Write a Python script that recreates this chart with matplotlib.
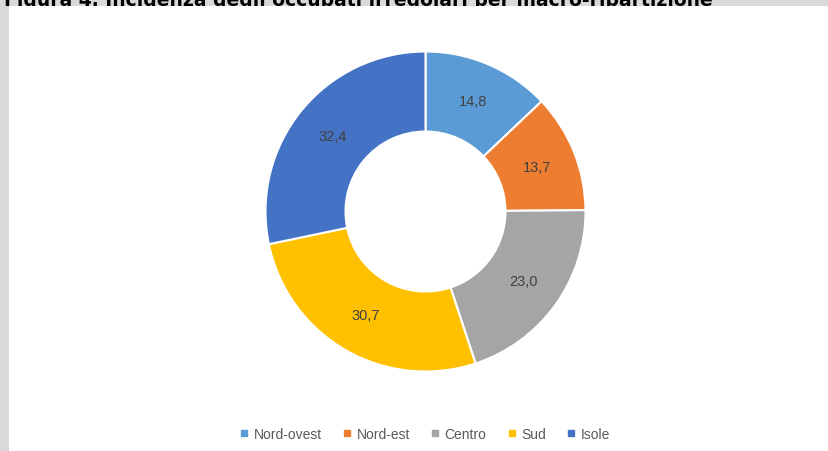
import numpy as np
import matplotlib.pyplot as plt
from matplotlib.lines import Line2D
from matplotlib.patches import Rectangle

regions = ["Nord-ovest", "Nord-est", "Centro", "Sud", "Isole"]
incidence = [14.8, 13.7, 23.0, 30.7, 32.4]
colors = ["#5B9BD5", "#ED7D31", "#A5A5A5", "#FFC000", "#4472C4"]
title = "Figura 4. Incidenza degli occupati irregolari per macro-ripartizione"

plt.rcParams["font.family"] = ["Liberation Sans", "DejaVu Sans"]

W, H = 829, 452
fig = plt.figure(figsize=(W / 100, H / 100), dpi=100, facecolor="#d9d9d9")

# white chart area inside the grey page, laid over the caption's lower part
fig.add_artist(Rectangle((9 / W, 0), 1 - 9 / W, 1 - 7 / H, transform=fig.transFigure,
                         facecolor="white", edgecolor="none", zorder=2))

# caption sits mostly above the page edge
fig.text(4 / W, 1 - 6 / H, title, fontsize=13.5, fontweight="bold",
         family="DejaVu Sans", color="black", va="baseline", ha="left", zorder=1)

ax = fig.add_axes([265.5 / W, 79.5 / H, 320 / W, 320 / H])
ax.set_zorder(3)
wedges, _ = ax.pie(incidence, colors=colors, startangle=90, counterclock=False, radius=1,
                   wedgeprops=dict(width=0.5, edgecolor="white", linewidth=1.5))

for w, v in zip(wedges, incidence):
    theta = np.deg2rad((w.theta1 + w.theta2) / 2)
    ax.text(0.75 * np.cos(theta), 0.75 * np.sin(theta), f"{v:.1f}".replace(".", ","),
            ha="center", va="center", fontsize=10.5, color="#404040")

ax.set_xlim(-1, 1)
ax.set_ylim(-1, 1)
ax.set_aspect("equal")
ax.axis("off")

handles = [Line2D([], [], marker="s", linestyle="none", markersize=4,
                  markerfacecolor=c, markeredgecolor=c) for c in colors]
leg = fig.legend(handles, regions, loc="center", bbox_to_anchor=(425 / W, 1 - 435 / H),
                 ncol=5, frameon=False, fontsize=10, handlelength=0.6, handletextpad=0.4,
                 columnspacing=1.5, labelcolor="#595959")
leg.set_zorder(3)

fig.savefig("out.png", dpi=100, facecolor=fig.get_facecolor())
